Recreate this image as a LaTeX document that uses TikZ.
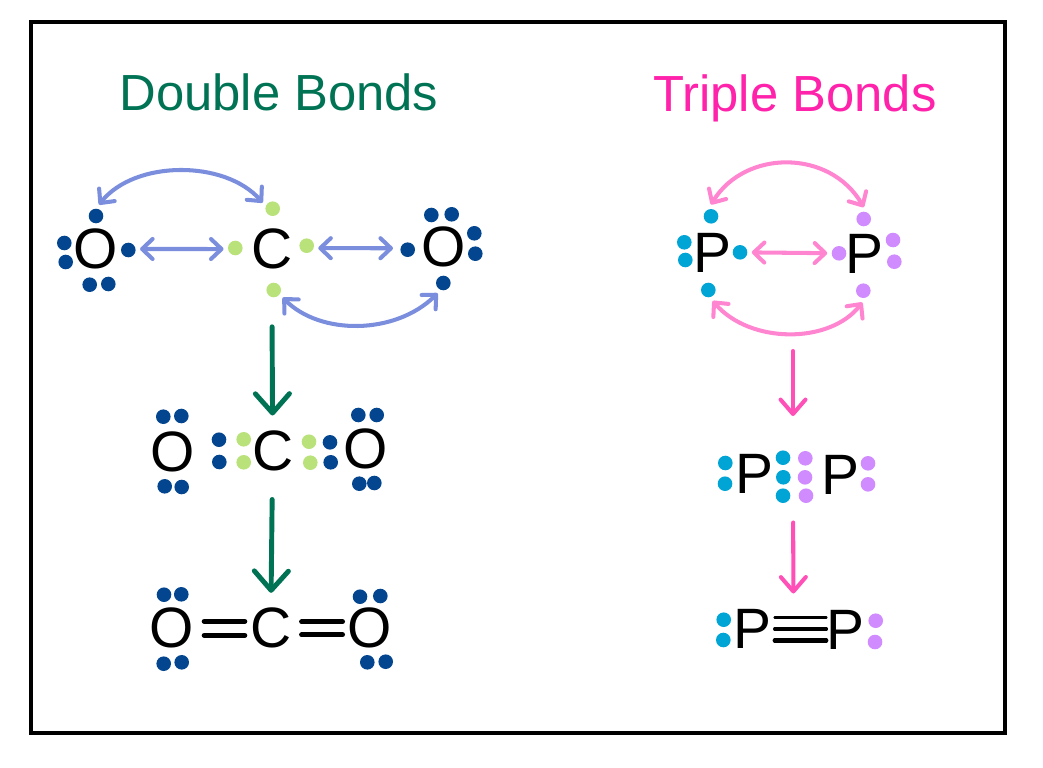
\documentclass[tikz,border=0pt]{standalone}
\usepackage{fontspec}
\setmainfont{Liberation Sans}
\usetikzlibrary{arrows.meta}
\definecolor{navydot}{HTML}{03468F}
\definecolor{limedot}{HTML}{B9E27A}
\definecolor{cyandot}{HTML}{00A5D6}
\definecolor{lilacdot}{HTML}{D08BFF}
\definecolor{periwinkle}{HTML}{7B8EDD}
\definecolor{softpink}{HTML}{FF85D0}
\definecolor{hotpink}{HTML}{FF50B8}
\definecolor{titlepink}{HTML}{FF22AA}
\definecolor{deepgreen}{HTML}{007355}
\begin{document}
\begin{tikzpicture}[x=0.02cm, y=-0.02cm,
    atom/.style={font=\fontsize{32.4}{36}\selectfont, inner sep=0pt},
    heading/.style={font=\fontsize{28.9}{34}\selectfont, anchor=base, inner sep=0pt},
    dot/.style={circle, fill, inner sep=0pt, minimum size=0.292cm, outer sep=0.09cm},
    exchange/.style={<->, >={Straight Barb[round,length=6pt,width=11.4pt]}, line width=2.3pt, line cap=round},
    stepgreen/.style={->, >={Straight Barb[round,length=11pt,width=19.4pt]}, deepgreen, line width=2.8pt, line cap=round},
    steppink/.style={->, >={Straight Barb[round,length=8.2pt,width=14.2pt]}, hotpink, line width=2.3pt, line cap=round},
    bond/.style={line width=2.85pt, line cap=round, shorten <=0.2cm, shorten >=0.1cm},
    triple/.style={line cap=round, shorten <=0.06cm}]
    \useasboundingbox (0,0) rectangle (1043,767);
    \draw[line width=2pt] (31,22) rectangle (1005,733);

    \node[heading,deepgreen] (dtitle) at (279,111) {Double Bonds};
    \node[heading,titlepink] (ttitle) at (795,112) {Triple Bonds};

    \node[atom] (oa1) at (96,249) {O};
    \node[atom] (ca1) at (271.7,249.3) {C};
    \node[atom] (ob1) at (443.3,247.3) {O};
    \node[atom] (oa2) at (172.7,451.7) {O};
    \node[atom] (ca2) at (272.7,451) {C};
    \node[atom] (ob2) at (366,449) {O};
    \node[atom] (oa3) at (171.7,628.3) {O};
    \node[atom] (ca3) at (270.7,628.3) {C};
    \node[atom] (ob3) at (370,628.3) {O};
    \node[atom] (pa1) at (712.5,253.3) {P};
    \node[atom] (pb1) at (864.7,254) {P};
    \node[atom] (pa2) at (754.7,474) {P};
    \node[atom] (pb2) at (840.7,475) {P};
    \node[atom] (pa3) at (752.3,629) {P};
    \node[atom] (pb3) at (845.7,630) {P};
    \coordinate (mid1) at (793,254);
    \coordinate (mid2) at (793,475);
    \coordinate (mid3) at (793.5,629);

    \foreach \nm/\px/\py in {oat/96/216, oal/64.3/243, oam/65.7/262, oad/89.7/284.7, oae/108.3/284, oar/128.3/250,
        obl/407.7/249.7, obt/431.3/215, obu/451.7/214.3, obr/474.3/233.3, obs/475.3/253.7, obb/443.3/283,
        a2a/163.3/416.7, a2b/181.3/416, a2c/164.7/486.3, a2d/181.7/487, a2e/219/439.7, a2f/219.3/462,
        b2a/330/442.3, b2b/330.7/462.3, b2c/358.3/415, b2d/376.7/415, b2e/359.3/483.7, b2f/374.3/483,
        a3a/164/594.7, a3b/181.3/594.3, a3c/163.7/663.7, a3d/181.7/662.3,
        b3a/360/596.7, b3b/380.3/596, b3c/367.3/662.3, b3d/385.7/661.7}
      \node[dot,navydot] (\nm) at (\px,\py) {};

    \foreach \nm/\px/\py in {cat/272.7/208.7, cal/235.3/248, car/306.7/245.7, cab/273.7/290,
        c2a/243.7/439.3, c2b/243.7/462.3, c2c/309/441.7, c2d/310.3/462.7}
      \node[dot,limedot] (\nm) at (\px,\py) {};

    \foreach \nm/\px/\py in {pat/711/216.3, pal/684.3/242.3, pam/685.3/260, pab/708.3/290, par/740/252.3,
        p2a/725.3/463, p2b/725/483.7, p2c/783/457.7, p2d/783.3/477.3, p2e/783/495.7,
        p3a/723.7/619.7, p3b/723.3/640}
      \node[dot,cyandot] (\nm) at (\px,\py) {};

    \foreach \nm/\px/\py in {pbt/863.7/219, pbl/839/253.3, pbr/893/240, pbs/894.3/261.7, pbb/863.3/290.7,
        q2a/805.3/458.3, q2b/805/477.3, q2c/806/495.7, q2d/868/463.3, q2e/868/484.3,
        q3a/875.7/620.7, q3b/875/642}
      \node[dot,lilacdot] (\nm) at (\px,\py) {};

    \draw[exchange,periwinkle] (oat.75) .. controls (135,159.8) and (225,159.8) .. (cat.149);
    \draw[exchange,periwinkle] (cab.-40) .. controls (320,335.2) and (395,335.2) .. (obb.-119);
    \draw[exchange,periwinkle] (oar.5) -- (cal.185);
    \draw[exchange,periwinkle, shorten >=0.06cm] (car.-12) -- (obl.173);
    \draw[exchange,softpink] (pat.90) .. controls (745,149) and (830,149) .. (pbt.90);
    \draw[exchange,softpink] (pab.-68) .. controls (750,344.2) and (830,344.2) .. (pbb.-95);
    \draw[exchange,softpink] (par) -- (pbl);

    \draw[stepgreen, shorten <=1.14cm, shorten >=0.3cm] (ca1) -- (ca2);
    \draw[stepgreen, shorten <=0.56cm, shorten >=0.3cm] (ca2) -- (ca3);
    \draw[steppink, shorten <=1.94cm, shorten >=1.18cm] (mid1) -- (mid2);
    \draw[steppink, shorten <=0.95cm, shorten >=0.71cm] (mid2) -- (mid3);

    \draw[bond] ([yshift=0.14cm]oa3.east) -- ([yshift=0.14cm]ca3.west);
    \draw[bond] ([yshift=-0.14cm]oa3.east) -- ([yshift=-0.14cm]ca3.west);
    \draw[bond] ([yshift=0.13cm]ca3.east) -- ([yshift=0.13cm]ob3.west);
    \draw[bond] ([yshift=-0.13cm]ca3.east) -- ([yshift=-0.13cm]ob3.west);
    \draw[triple, line width=1.5pt] ([yshift=0.23cm]pa3.east) -- ([yshift=0.23cm]pa3.east -| pb3.west);
    \draw[triple, line width=1.9pt] (pa3.east) -- (pa3.east -| pb3.west);
    \draw[triple, line width=2.3pt] ([yshift=-0.23cm]pa3.east) -- ([yshift=-0.23cm]pa3.east -| pb3.west);
\end{tikzpicture}
\end{document}
